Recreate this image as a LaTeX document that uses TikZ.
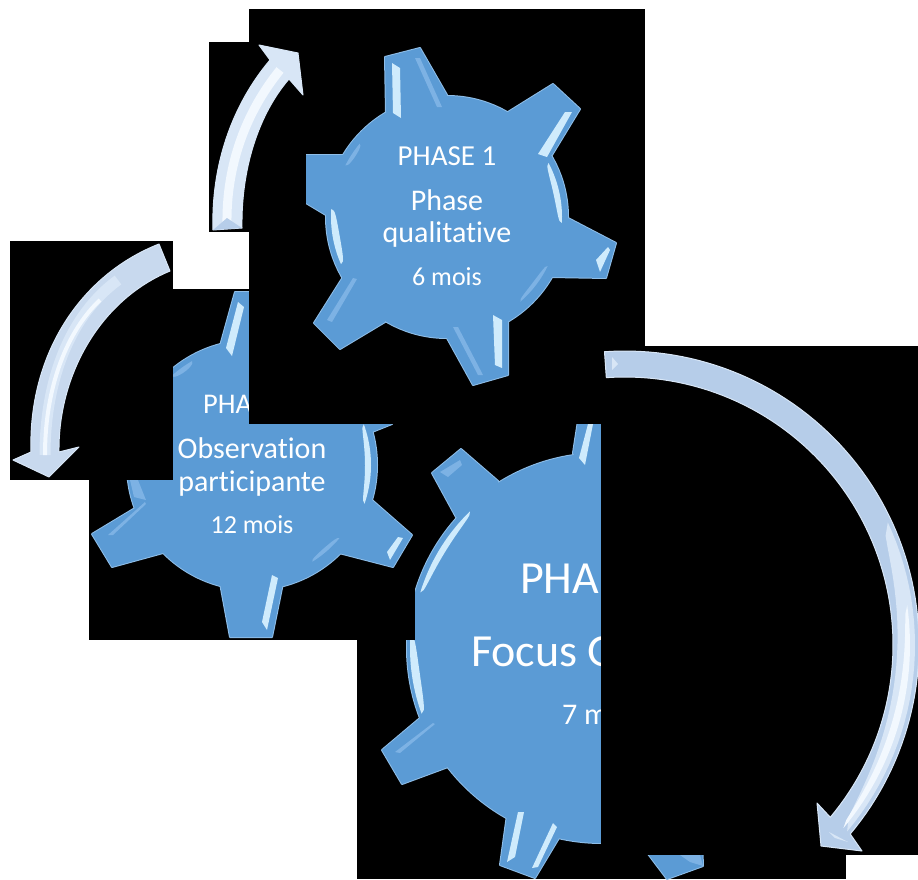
\documentclass[tikz,border=0pt]{standalone}
\usepackage{fontspec}
\setmainfont[Ligatures=NoCommon]{Carlito}
\definecolor{gearblue}{HTML}{5B9BD5}
\definecolor{gearedge}{HTML}{8FBEE8}
\definecolor{softhl}{HTML}{7DB2E4}
\definecolor{brighthl}{HTML}{CFEBFC}
\definecolor{arrowbase}{HTML}{B6CDE9}
\definecolor{arrowlight}{HTML}{D8E6F6}
\definecolor{arrowpale}{HTML}{F2F8FE}
\tikzset{
  x=1pt,y=-1pt,
  backrect/.style={fill=black},
  edgepass/.style={draw=gearedge,line width=2pt,line join=round,fill=gearedge},
  bodypass/.style={fill=gearblue},
  strong/.style={fill=brighthl},
  faint/.style={fill=softhl},
  arrowbody/.style={fill=arrowbase,draw=arrowlight,line width=1pt,line join=round},
  stripe/.style={line width=#1},
  lbl/.style={text=white,inner sep=0pt,anchor=base},
  lblw/.style={text=white,inner sep=0pt,anchor=base west},
}
\newcommand\fsz[1]{\fontsize{#1}{#1}\selectfont}
% a tapered highlight following a hub: cx cy r1 r2 a1 a2 style
\newcommand\hubarc[7]{\fill[#7] plot[domain=#5:#6,samples=30] ({#1+#4*cos(\x)},{#2+#4*sin(\x)}) -- plot[domain=#6:#5,samples=30] ({#1+(#4-(#4-#3)*sin(180*(\x-#5)/(#6-#5))^0.4)*cos(\x)},{#2+(#4-(#4-#3)*sin(180*(\x-#5)/(#6-#5))^0.4)*sin(\x)}) -- cycle;}
\newcommand\gearA[1]{%
  \path[#1] (447,217) circle[radius=121];
  \path[#1] (386,112)--(385,57)--(420,48)--(447,95)--(447,150)--cycle;
  \path[#1] (508,112)--(553,84)--(580,109)--(552,155)--(500,180)--cycle;
  \path[#1] (568,218)--(616,243)--(606,278)--(552,277)--(500,230)--cycle;
  \path[#1] (508,320)--(508,375)--(473,385)--(447,338)--(447,280)--cycle;
  \path[#1] (385,322)--(340,349)--(314,323)--(343,277)--(400,250)--cycle;
  \path[#1] (326,215)--(306,203)--(306,155)--(343,155)--(400,190)--cycle;
}
\newcommand\gearB[1]{%
  \path[#1] (252,465) circle[radius=125];
  \path[#1] (220,346)--(235,292)--(270,292)--(285,346)--(252,400)--cycle;
  \path[#1] (345,380)--(385,418)--(392,424)--(372,432)--(372,465)--(320,430)--cycle;
  \path[#1] (372,500)--(412,535)--(393,567)--(339,553)--(300,500)--cycle;
  \path[#1] (283,583)--(272,637)--(230,637)--(220,583)--(252,530)--cycle;
  \path[#1] (163,553)--(112,567)--(92,534)--(145,502)--(200,500)--cycle;
}
\newcommand\gearC[1]{%
  \path[#1] (602,648) circle[radius=195];
  \path[#1] (573,453)--(582,395)--(625,395)--(640,460)--(600,520)--cycle;
  \path[#1] (498,481)--(461,449)--(432,473)--(456,517)--(520,560)--cycle;
  \path[#1] (420,718)--(382,750)--(402,784)--(448,767)--(500,700)--cycle;
  \path[#1] (507,815)--(500,865)--(535,878)--(562,833)--(540,760)--cycle;
  \path[#1] (630,830)--(667,879)--(703,866)--(700,790)--(640,760)--cycle;
}
\begin{document}
\begin{tikzpicture}
\useasboundingbox (0,0) rectangle (918,879);
\fill[white] (0,0) rectangle (918,879);

% third gear
\fill[backrect] (357,424) rectangle (846,879);
\gearC{edgepass}
\gearC{bodypass}
\hubarc{602}{648}{184}{190}{197}{226}{strong}
\hubarc{602}{648}{184}{192}{160}{184}{strong}
\fill[strong] (588,424)--(579,458)--(585,465)--(593,424)--cycle;
\fill[faint] (440,472)--(460,460)--(462,465)--(448,477)--cycle;
\fill[faint] (395,752)--(433,723)--(435,724)--(400,753)--cycle;
\fill[strong] (507,862)--(518,812)--(524,812)--(515,857)--cycle;
\fill[strong] (532,868)--(553,823)--(557,827)--(538,867)--cycle;
\fill[faint] (680,855)--(700,855)--(703,866)--(690,862)--cycle;
\node[lblw,font=\fsz{46}] (p3a) at (520,593) {PHA};
\node[lblw,font=\fsz{46}] (p3b) at (471,666) {Focus G};
\node[lblw,font=\fsz{30}] (p3c) at (562,724) {7 m};

% second gear
\fill[backrect] (89,289) rectangle (415,640);
\gearB{edgepass}
\gearB{bodypass}
\fill[strong] (238,302)--(244,307)--(232,356)--(226,348)--cycle;
\hubarc{252}{465}{115}{120}{228}{240}{faint}
\hubarc{252}{465}{113}{119}{-20}{19}{strong}
\fill[strong] (387,552)--(398,537)--(403,538)--(390,560)--cycle;
\fill[strong] (262,622)--(272,575)--(278,578)--(267,630)--cycle;
\hubarc{252}{465}{110}{114}{40}{58}{faint}
\fill[faint] (108,535)--(145,502)--(146,504)--(113,535)--cycle;
\fill[faint] (130,480)--(138,480)--(146,500)--(134,497)--cycle;
\node[lblw,font=\fsz{28.5}] (p2a) at (203,413) {PHA};
\node[lbl,font=\fsz{30}] (p2b) at (252,458) {Observation};
\node[lbl,font=\fsz{30}] (p2c) at (252,491) {participante};
\node[lbl,font=\fsz{26}] (p2d) at (252,533) {12 mois};

% first gear
\fill[backrect] (249,9) rectangle (645,424);
\gearA{edgepass}
\gearA{bodypass}
\fill[strong] (392,63)--(400,68)--(401,118)--(393,113)--cycle;
\fill[faint] (415,58)--(420,58)--(442,107)--(437,107)--cycle;
\fill[strong] (538,154)--(565,112)--(572,112)--(547,157)--cycle;
\hubarc{447}{217}{109}{115}{-28}{3}{strong}
\hubarc{447}{217}{109}{116}{156}{184}{strong}
\hubarc{447}{217}{110}{114}{207}{220}{faint}
\hubarc{447}{217}{108}{112}{26}{49}{faint}
\fill[strong] (596,260)--(608,247)--(610,250)--(600,272)--cycle;
\fill[strong] (493,315)--(502,320)--(502,368)--(495,365)--cycle;
\fill[faint] (453,327)--(458,327)--(483,375)--(478,375)--cycle;
\fill[faint] (327,320)--(353,278)--(357,279)--(332,322)--cycle;
\node[lbl,font=\fsz{29}] (p1a) at (447,165) {PHASE 1};
\node[lbl,font=\fsz{30}] (p1b) at (447,210) {Phase};
\node[lbl,font=\fsz{30}] (p1c) at (447,242) {qualitative};
\node[lbl,font=\fsz{26}] (p1d) at (447,285) {6 mois};

% long arrow
\fill[backrect] (601,346) rectangle (918,855);
\path[arrowbody] plot[domain=-94:40,samples=80] ({625+294*cos(\x)},{645+294*sin(\x)})
  -- (862,851) -- (821,846) -- (817,803)
  -- plot[domain=40:-94,samples=80] ({625+268*cos(\x)},{645+268*sin(\x)}) -- cycle;
\hubarc{625}{645}{272}{290}{-25}{40}{fill=arrowlight}
\hubarc{625}{645}{278}{285}{-8}{40}{fill=arrowpale}
\fill[arrowlight] (612,357)--(618,364)--(612,370)--cycle;
\fill[arrowlight] (829,832)--(848,842)--(835,838)--cycle;

% left arrow
\fill[backrect] (10,241) rectangle (173,480);
\path[arrowbody,fill=arrowbase!75!white] (159,244) .. controls (80,275) and (28,355) .. (31,452)
  -- (13,460) -- (49,477) -- (79,447) -- (59,452)
  .. controls (58,375) and (100,300) .. (170,271) -- cycle;
\draw[stripe=11pt,arrowlight] (118,280) .. controls (70,315) and (45,380) .. (45,455);
\draw[stripe=4pt,arrowpale] (100,300) .. controls (68,330) and (45,385) .. (45,455);

% upper arrow
\fill[backrect] (209,42) rectangle (306,232);
\path[arrowbody,fill=arrowlight] (213,230) .. controls (211,165) and (232,105) .. (270,60)
  -- (259,45) -- (298,53) -- (303,95) -- (289,79)
  .. controls (258,115) and (241,170) .. (242,228) -- cycle;
\draw[stripe=9pt,arrowpale] (227,225) .. controls (226,165) and (246,112) .. (280,70);
\fill[arrowbase] (213,230)--(227,218)--(242,228)--cycle;
\end{tikzpicture}
\end{document}
